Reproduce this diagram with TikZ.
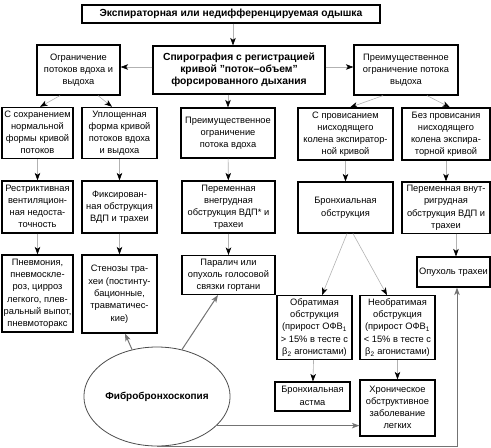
\documentclass[tikz,border=0pt]{standalone}
\usepackage{fontspec}
\setsansfont{Liberation Sans}
\usetikzlibrary{positioning, calc, arrows.meta, shapes.geometric}

\newcommand{\lines}[1]{\begin{tabular}{@{}c@{}}#1\end{tabular}}

\begin{document}
\begin{tikzpicture}[
                x=1pt, y=-1pt,
                font=\sffamily\fontsize{9.3}{12.3}\selectfont,
                >={Stealth[black, length=7.5pt, width=5.5pt, inset=2pt]},
                every edge/.style={draw, gray!60, line width=.6pt},
                box/.style={draw, line width=1.2pt, inner sep=1pt, fill=white},
                headbox/.style={box, font=\sffamily\bfseries\fontsize{10.3}{12.3}\selectfont},
                fbsline/.style={draw, black!55, line width=1pt, >={Stealth[black!55, length=7.5pt, width=5.5pt, inset=2pt]}}]

    \useasboundingbox (0,0) rectangle (491,448);

    %%% NODES
    \node [headbox, minimum width=298, minimum height=18] (dyspnea) at (231,14) {Экспираторная или недифференцируемая одышка};
    \node [headbox, minimum width=172, minimum height=48] (spiro) at (239,70) {\lines{Спирография с регистрацией\\кривой "поток–объем"\\форсированного дыхания}};
    \node [box, minimum width=83, minimum height=50] (bothflow) at (78.5,70) {\lines{Ограничение\\потоков вдоха и\\выдоха}};
    \node [box, minimum width=104, minimum height=50] (expflow) at (406,70) {\lines{Преимущественное\\ограничение потока\\выдоха}};

    \node [box, minimum width=71, minimum height=50] (normalcurve) at (37.5,133) {\lines{С сохранением\\нормальной\\формы кривой\\потоков}};
    \node [box, minimum width=75, minimum height=50] (flatcurve) at (119.5,133) {\lines{Уплощенная\\форма кривой\\потоков вдоха\\и выдоха}};
    \node [box, minimum width=94, minimum height=50] (inspflow) at (228,133) {\lines{Преимущественное\\ограничение\\потока вдоха}};
    \node [box, minimum width=95, minimum height=52] (sag) at (345.5,134) {\lines{С провисанием\\нисходящего\\колена экспиратор-\\ной кривой}};
    \node [box, minimum width=88, minimum height=52] (nosag) at (446,134) {\lines{Без провисания\\нисходящего\\колена экспира-\\торной кривой}};

    \node [box, minimum width=71, minimum height=52] (restrictive) at (37.5,207) {\lines{Рестриктивная\\вентиляцион-\\ная недоста-\\точность}};
    \node [box, minimum width=75, minimum height=52] (fixedobstr) at (119.5,207) {\lines{Фиксирован-\\ная обструкция\\ВДП и трахеи}};
    \node [box, minimum width=93, minimum height=52] (extrathor) at (228.5,207) {\lines{Переменная\\внегрудная\\обструкция ВДП* и\\трахеи}};
    \node [box, minimum width=95, minimum height=51] (bronchobstr) at (345.5,207.5) {\lines{Бронхиальная\\обструкция}};
    \node [box, minimum width=88, minimum height=51] (intrathor) at (446,207.5) {\lines{Переменная внут-\\ригрудная\\обструкция ВДП и\\трахеи}};

    \node [box, minimum width=71, minimum height=77] (pneumonia) at (37.5,293.5) {\lines{Пневмония,\\пневмоскле-\\роз, цирроз\\легкого, плев-\\ральный выпот,\\пневмоторакс}};
    \node [box, minimum width=75, minimum height=78] (stenosis) at (119.5,294) {\lines{Стенозы тра-\\хеи (постинту-\\бационные,\\травматичес-\\кие)}};
    \node [box, minimum width=93, minimum height=36] (palsy) at (228.5,275) {\lines{Паралич или\\опухоль голосовой\\связки гортани}};
    \node [box, minimum width=73, minimum height=30] (tumor) at (453.5,272) {Опухоль трахеи};

    \node [box, minimum width=75, minimum height=59] (reversible) at (314.5,327.5) {\lines{Обратимая\\обструкция\\(прирост ОФВ\textsubscript{1}\\> 15\% в тесте с\\β\textsubscript{2} агонистами)}};
    \node [box, minimum width=75, minimum height=59] (irreversible) at (397.5,327.5) {\lines{Необратимая\\обструкция\\(прирост ОФВ\textsubscript{1}\\< 15\% в тесте с\\β\textsubscript{2} агонистами)}};
    \node [box, minimum width=75, minimum height=29] (asthma) at (312.5,396.5) {\lines{Бронхиальная\\астма}};
    \node [box, minimum width=75, minimum height=56] (copd) at (397.5,408) {\lines{Хроническое\\обструктивное\\заболевание\\легких}};

    \node [ellipse, draw, black!70, line width=.8pt, minimum width=114, minimum height=99, inner sep=0pt,
           text=black, font=\sffamily\bfseries\fontsize{10}{12}\selectfont] (fbs) at (157,396.5) {Фибробронхоскопия};

    %%% CONNECTIONS
    \path (dyspnea.south -| 233,0) edge [->] (233,0 |- spiro.north);
    \path (spiro.west |- 0,67) edge [->] (bothflow.east |- 0,67);
    \path (spiro.east |- 0,67) edge [->] (expflow.west |- 0,67);
    \path (spiro.south -| inspflow.north) edge [->] (inspflow.north);

    \path ([xshift=-18.5pt]bothflow.south) edge [->] ([xshift=2.5pt]normalcurve.north);
    \path ([xshift=19.5pt]bothflow.south) edge [->] ([xshift=-7.5pt]flatcurve.north);
    \path ([xshift=-23pt]expflow.south) edge [->] ([xshift=4.5pt]sag.north);
    \path ([xshift=21pt]expflow.south) edge [->] ([xshift=4pt]nosag.north);

    \path (normalcurve) edge [->] (restrictive);
    \path (flatcurve) edge [->] (fixedobstr);
    \path (inspflow) edge [->] (extrathor);
    \path (sag) edge [->] (bronchobstr);
    \path (nosag) edge [->] (intrathor);

    \path (restrictive) edge [->] (pneumonia);
    \path (fixedobstr) edge [->] (stenosis);
    \path (extrathor) edge [->] (palsy);
    \path (intrathor.south -| 456,0) edge [->] (tumor.north -| 456,0);

    \path ([xshift=1.5pt]bronchobstr.south) edge [->] ([xshift=7.5pt]reversible.north);
    \path ([xshift=7.5pt]bronchobstr.south) edge [->] ([xshift=-10.5pt]irreversible.north);
    \path (reversible) edge [->] (asthma);
    \path (irreversible) edge [->] (copd);

    \draw [fbsline, ->] (fbs.118) -- ([xshift=5.5pt]stenosis.south);
    \draw [fbsline, ->] (fbs.62) -- ([xshift=-10.5pt]palsy.south);
    \draw [fbsline, ->] (fbs.-26) -- (fbs.-26 -| copd.west);
    \draw [fbsline, ->] (fbs.south) -| ([xshift=3.5pt]tumor.south);

\end{tikzpicture}
\end{document}
